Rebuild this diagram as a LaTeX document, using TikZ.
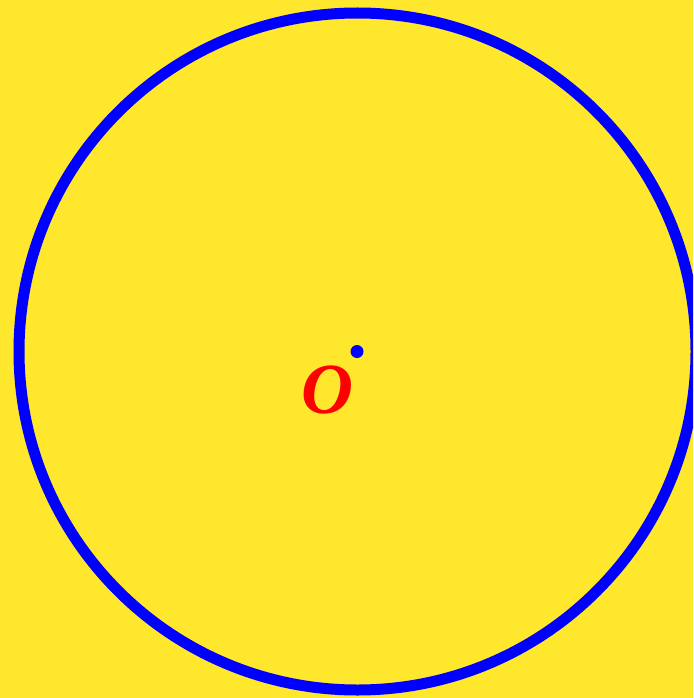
\documentclass[tikz,border=0pt]{standalone}
\usepackage{fontspec}
\newfontfamily\lblfont{Liberation Serif}
\usepackage{tikz}
\definecolor{bgyellow}{HTML}{FFE72E}
\begin{document}
\begin{tikzpicture}[x=1pt,y=-1pt,
  ring/.style={draw=blue,line width=11pt},
  ctr/.style={circle,fill=blue,inner sep=0pt,minimum size=13pt},
  lbl/.style={text=red,inner sep=0pt,font=\lblfont\bfseries\itshape\fontsize{72}{72}\selectfont}]
\fill[bgyellow] (0,0) rectangle (693,698);
\useasboundingbox (0,0) rectangle (693,698);
\begin{scope}
\clip (0,0) rectangle (693,698);
\draw[ring] (357.5,351.5) circle[radius=338.5];
\end{scope}
\node[ctr] (o) at (357,351.5) {};
\node[lbl,anchor=base] (olabel) at (327,413) {O};
\end{tikzpicture}
\end{document}
